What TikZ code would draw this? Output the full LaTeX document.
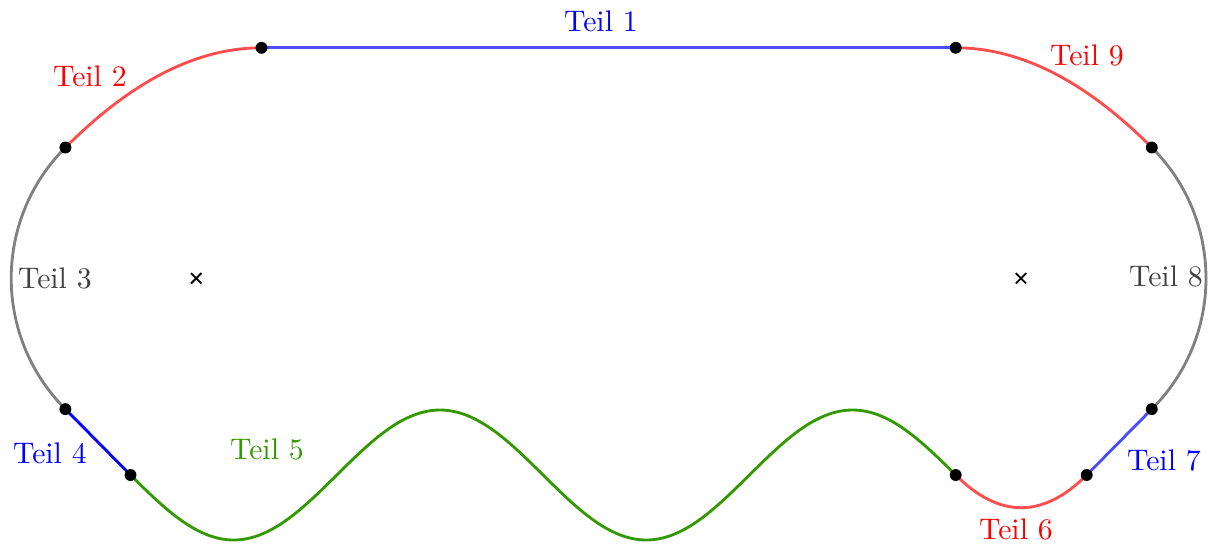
\documentclass[tikz,border=0pt]{standalone}
\usetikzlibrary{shapes.misc}
\definecolor{tgreen}{RGB}{51,153,0}
\definecolor{tgray}{RGB}{64,64,64}
\begin{document}
\begin{tikzpicture}[x=0.336pt,y=-0.336pt,
  dot/.style={circle,fill=black,inner sep=0pt,minimum size=4pt},
  xmark/.style={cross out,draw=black,inner sep=0pt,minimum size=2.9pt,line width=0.6pt},
  seg/.style={line width=0.95pt},
  lbl/.style={inner sep=0pt,anchor=center}]
\useasboundingbox (0,0) rectangle (1212,548);
% key points
\coordinate (cL) at (196.2,278.3);
\coordinate (cR) at (1021,278.3);
\coordinate (p1L) at (261.5,47.8);
\coordinate (p1R) at (955.7,47.8);
\coordinate (p3t) at (65.4,147.5);
\coordinate (p3b) at (65.4,409.1);
\coordinate (p4e) at (130.5,475);
\coordinate (p5e) at (955.7,475);
\coordinate (p6e) at (1086.7,475);
\coordinate (p8b) at (1151.8,409.1);
\coordinate (p8t) at (1151.8,147.5);
% wave points
\coordinate (w1) at (233.65,540);
\coordinate (w2) at (336.8,475);
\coordinate (w3) at (439.95,410);
\coordinate (w4) at (543.1,475);
\coordinate (w5) at (646.25,540);
\coordinate (w6) at (749.4,475);
\coordinate (w7) at (852.55,410);
% segments
\draw[seg,blue!70] (p1L) -- (p1R);
\draw[seg,red!70] (p3t) .. controls +(55,-55) and +(-75,0) .. (p1L);
\draw[seg,gray] (p3t) .. controls +(-72.25,72.25) and +(-72.25,-72.25) .. (p3b);
\draw[seg,blue] (p3b) -- (p4e);
\draw[seg,tgreen] (p4e) sin (w1) cos (w2) sin (w3) cos (w4) sin (w5) cos (w6) sin (w7) cos (p5e);
\draw[seg,red!70] (p5e) .. controls +(43.6,43.6) and +(-43.6,43.6) .. (p6e);
\draw[seg,blue!70] (p6e) -- (p8b);
\draw[seg,gray] (p8b) .. controls +(72.25,-72.25) and +(72.25,72.25) .. (p8t);
\draw[seg,red!70] (p1R) .. controls +(75,0) and +(-55,-55) .. (p8t);
% dots
\foreach \p in {p1L,p1R,p3t,p3b,p4e,p5e,p6e,p8b,p8t}
  \node[dot] (d-\p) at (\p) {};
% centres
\node[xmark] (xL) at (cL) {};
\node[xmark] (xR) at (cR) {};
% labels
\node[lbl,text=blue] (t1) at (601,21) {Teil 1};
\node[lbl,text=red] (t2) at (90,76) {Teil 2};
\node[lbl,text=tgray] (t3) at (55,278) {Teil 3};
\node[lbl,text=blue] (t4) at (50,453) {Teil 4};
\node[lbl,text=tgreen] (t5) at (267,449) {Teil 5};
\node[lbl,text=red] (t6) at (1016,529) {Teil 6};
\node[lbl,text=blue] (t7) at (1164,460) {Teil 7};
\node[lbl,text=tgray] (t8) at (1166,276) {Teil 8};
\node[lbl,text=red] (t9) at (1087,55) {Teil 9};
\end{tikzpicture}
\end{document}
